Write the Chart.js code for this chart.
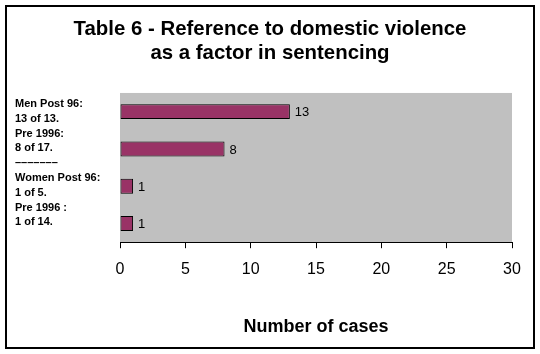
<!DOCTYPE html>
<html>
<head>
<meta charset="utf-8">
<script src="https://cdn.jsdelivr.net/npm/chart.js@4"></script>
<style>
  html, body { margin: 0; padding: 0; background: #fff; }
  #wrap { width: 540px; height: 354px; position: relative; }
</style>
</head>
<body>
<div id="wrap"><canvas id="sentChart"></canvas></div>
<script>
const categories = ['Men Post 96', 'Men Pre 1996', 'Women Post 96', 'Women Pre 1996'];
const caseCounts = [13, 8, 1, 1];
const xTicks = [0, 5, 10, 15, 20, 25, 30];
const titleLines = ['Table 6 - Reference to domestic violence', 'as a factor in sentencing'];
const noteLines = ['Men Post 96:', '13 of 13.', 'Pre 1996:', '8 of 17.', '–––––––', 'Women Post 96:', '1 of 5.', 'Pre 1996 :', '1 of 14.'];

const FONT = '"Liberation Sans", Arial, sans-serif';

// grey plot area, like the old Excel default
const plotBg = {
    id: 'plotBg',
    beforeDraw(chart) {
        const { ctx, chartArea: a } = chart;
        ctx.save();
        ctx.fillStyle = '#c0c0c0';
        ctx.fillRect(a.left, a.top, a.right - a.left, a.bottom - a.top);
        ctx.restore();
    }
};

// value next to each bar
const barValues = {
    id: 'barValues',
    afterDatasetsDraw(chart) {
        const { ctx } = chart;
        const meta = chart.getDatasetMeta(0);
        ctx.save();
        ctx.font = '13px ' + FONT;
        ctx.fillStyle = '#000';
        ctx.textBaseline = 'middle';
        meta.data.forEach((bar, i) => {
            ctx.fillText(String(caseCounts[i]), bar.x + 5, bar.y + 1);
        });
        ctx.restore();
    }
};

// text box on the left plus the outer frame
const notesAndFrame = {
    id: 'notesAndFrame',
    afterDraw(chart) {
        const { ctx } = chart;
        ctx.save();
        ctx.font = 'bold 11px ' + FONT;
        ctx.fillStyle = '#000';
        ctx.textBaseline = 'middle';
        noteLines.forEach((t, i) => {
            ctx.fillText(t, 15, 104 + i * 14.8);
        });
        ctx.strokeStyle = '#000';
        ctx.lineWidth = 2;
        ctx.strokeRect(6, 6, 528, 342);
        ctx.restore();
    }
};

new Chart(document.getElementById('sentChart'), {
    type: 'bar',
    data: {
        labels: categories,
        datasets: [{
            data: caseCounts,
            backgroundColor: '#993366',
            borderColor: '#000',
            borderWidth: 1,
            borderSkipped: false,
            barPercentage: 0.4,
            categoryPercentage: 1.0
        }]
    },
    options: {
        indexAxis: 'y',
        responsive: true,
        maintainAspectRatio: false,
        animation: false,
        layout: { padding: { left: 28, right: 28, top: 0, bottom: 16 } },
        plugins: {
            legend: { display: false },
            tooltip: { enabled: false },
            title: {
                display: true,
                text: titleLines,
                color: '#000',
                font: { family: FONT, size: 20.4, weight: 'bold', lineHeight: 1.2 },
                padding: { top: 17, bottom: 27 }
            }
        },
        scales: {
            x: {
                min: 0,
                max: 30,
                afterBuildTicks(axis) {
                    axis.ticks = xTicks.map(v => ({ value: v }));
                },
                grid: { drawOnChartArea: false, drawTicks: true, tickLength: 6, color: '#000' },
                border: { color: '#000', width: 1 },
                ticks: { color: '#000', padding: 12, font: { family: FONT, size: 16 } },
                title: {
                    display: true,
                    text: 'Number of cases',
                    color: '#000',
                    font: { family: FONT, size: 18, weight: 'bold' },
                    padding: { top: 25, bottom: 0 }
                }
            },
            y: {
                ticks: { display: false },
                grid: { display: false, drawTicks: false },
                border: { display: false },
                afterFit(axis) {
                    axis.width = 92;
                }
            }
        }
    },
    plugins: [plotBg, barValues, notesAndFrame]
});
</script>
</body>
</html>
